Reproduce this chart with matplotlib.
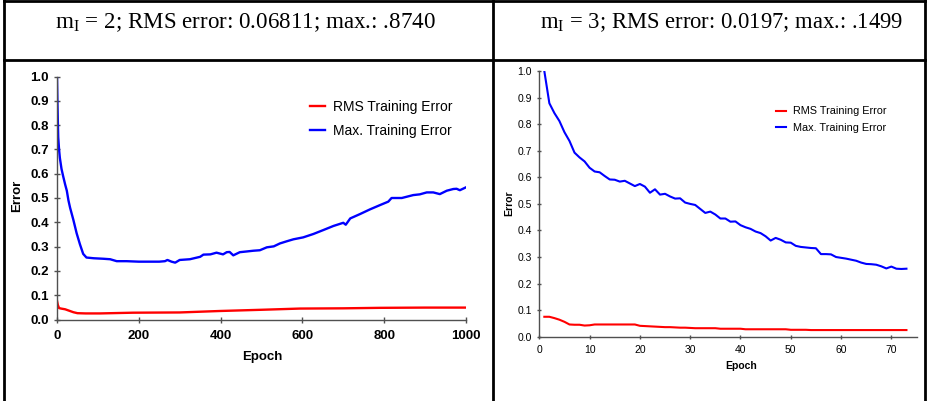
import matplotlib
matplotlib.use("Agg")
import matplotlib.pyplot as plt
from matplotlib.lines import Line2D

plt.rcParams['font.family'] = ['Liberation Sans', 'DejaVu Sans']
plt.rcParams['mathtext.fontset'] = 'custom'
plt.rcParams['mathtext.rm'] = 'Liberation Serif'

# left run: m_I = 2, 1000 epochs
epochs_a = [0, 1, 2, 3, 5, 7, 11, 15, 20, 24, 28, 32, 40, 48, 56, 64, 72, 90,
            113, 130, 146, 170, 200, 227, 250, 264, 270, 280, 289, 300, 325,
            350, 358, 375, 390, 406, 415, 422, 431, 447, 464, 480, 496, 513,
            530, 545, 562, 578, 602, 627, 651, 676, 700, 706, 717, 741, 765,
            790, 810, 818, 843, 871, 887, 904, 920, 936, 953, 969, 977, 985,
            1000]
max_a = [1.00, 0.90, 0.82, 0.75, 0.70, 0.665, 0.62, 0.59, 0.555, 0.53, 0.49,
         0.46, 0.41, 0.355, 0.31, 0.27, 0.255, 0.252, 0.25, 0.248, 0.24, 0.24,
         0.238, 0.238, 0.238, 0.24, 0.245, 0.238, 0.234, 0.245, 0.248, 0.258,
         0.267, 0.268, 0.275, 0.268, 0.277, 0.278, 0.264, 0.277, 0.28, 0.283,
         0.285, 0.297, 0.301, 0.313, 0.322, 0.33, 0.338, 0.352, 0.368, 0.385,
         0.398, 0.39, 0.416, 0.434, 0.453, 0.471, 0.485, 0.50, 0.50, 0.512,
         0.515, 0.523, 0.523, 0.516, 0.53, 0.537, 0.538, 0.532, 0.544]
rms_epochs_a = [0, 2, 5, 10, 20, 30, 40, 50, 70, 105, 186, 300, 398, 500, 594,
                700, 790, 900, 1000]
rms_a = [0.077, 0.06, 0.047, 0.045, 0.042, 0.036, 0.03, 0.026, 0.025, 0.025,
         0.028, 0.029, 0.035, 0.040, 0.045, 0.046, 0.048, 0.049, 0.049]

# right run: m_I = 3, 73 epochs
epochs_b = list(range(1, 74))
max_b = [1.000, 0.879, 0.842, 0.812, 0.770, 0.737, 0.693, 0.675, 0.660, 0.636,
         0.622, 0.619, 0.605, 0.592, 0.591, 0.584, 0.587, 0.577, 0.567, 0.575,
         0.565, 0.542, 0.555, 0.535, 0.538, 0.528, 0.520, 0.521, 0.505, 0.500,
         0.496, 0.481, 0.466, 0.471, 0.460, 0.445, 0.445, 0.433, 0.434, 0.420,
         0.412, 0.406, 0.396, 0.390, 0.378, 0.362, 0.372, 0.365, 0.355, 0.354,
         0.342, 0.338, 0.336, 0.334, 0.333, 0.311, 0.311, 0.310, 0.300, 0.297,
         0.294, 0.290, 0.286, 0.279, 0.274, 0.273, 0.271, 0.265, 0.257, 0.264,
         0.256, 0.255, 0.256]
rms_b = [0.075, 0.075, 0.070, 0.064, 0.056, 0.046, 0.045, 0.045, 0.042, 0.043,
         0.046, 0.046, 0.046, 0.046, 0.046, 0.046, 0.046, 0.046, 0.046, 0.041,
         0.040, 0.039, 0.038, 0.037, 0.036, 0.036, 0.035, 0.034, 0.034, 0.033,
         0.032, 0.032, 0.032, 0.032, 0.032, 0.030, 0.030, 0.030, 0.030, 0.030,
         0.028, 0.028, 0.028, 0.028, 0.028, 0.028, 0.028, 0.028, 0.028, 0.026,
         0.026, 0.026, 0.026, 0.025, 0.025, 0.025, 0.025, 0.025, 0.025, 0.025,
         0.025, 0.025, 0.025, 0.025, 0.025, 0.025, 0.025, 0.025, 0.025, 0.025,
         0.025, 0.025, 0.025]

titles = ["m$_\\mathrm{I}$ = 2; RMS error: 0.06811; max.: .8740",
          "m$_\\mathrm{I}$ = 3; RMS error: 0.0197; max.: .1499"]
labels = ["RMS Training Error", "Max. Training Error"]

W, H = 927, 401
fig = plt.figure(figsize=(W / 100, H / 100), dpi=100)


def fx(x):
    return x / W


def fy(y):
    return 1 - y / H


# table grid
for x0, y0, x1, y1 in [(4, 1, 925, 1), (4, 59.5, 925, 59.5),
                       (4, 0, 4, H), (493, 0, 493, H), (925, 0, 925, H)]:
    fig.add_artist(Line2D([fx(x0), fx(x1)], [fy(y0), fy(y1)], color='black',
                          lw=2, transform=fig.transFigure))

fig.text(fx(55), fy(23), titles[0], family='Liberation Serif', fontsize=16.6,
         ha='left', va='center')
fig.text(fx(540), fy(23), titles[1], family='Liberation Serif', fontsize=16.3,
         ha='left', va='center')


def style(ax, fs, bold, ypad, xpad, tlen):
    for s in ['top', 'right']:
        ax.spines[s].set_visible(False)
    for s in ['left', 'bottom']:
        ax.spines[s].set_color('#505050')
        ax.spines[s].set_linewidth(1.0)
    ax.set_ylim(0, 1.0)
    ax.set_yticks([i / 10 for i in range(11)])
    ax.set_yticklabels(["%.1f" % (i / 10) for i in range(11)])
    ax.tick_params(axis='both', direction='inout', length=tlen, width=1.0,
                   color='#505050', labelsize=fs)
    ax.tick_params(axis='y', pad=ypad)
    ax.tick_params(axis='x', pad=xpad)
    for t in ax.get_xticklabels() + ax.get_yticklabels():
        t.set_fontweight('bold' if bold else 'normal')
    ax.set_facecolor('none')


# left chart
ax1 = fig.add_axes([fx(57), fy(319.5), (466 - 57) / W, 243 / H])
ax1.plot(rms_epochs_a, rms_a, color='red', lw=1.7, label=labels[0])
ax1.plot(epochs_a, max_a, color='blue', lw=1.7, label=labels[1])
ax1.set_xlim(0, 1000)
ax1.set_xticks(range(0, 1001, 200))
style(ax1, 9.5, True, 3.5, 5.5, 4.5)
ax1.legend(frameon=False, loc='upper left',
           bbox_to_anchor=(fx(310), fy(99.5)), bbox_transform=fig.transFigure,
           fontsize=10, borderpad=0, borderaxespad=0, handlelength=1.1,
           handletextpad=0.55, labelspacing=0.72)
fig.text(fx(262), fy(357), "Epoch", fontsize=9.5, fontweight='bold',
         ha='center', va='center')
fig.text(fx(17), fy(196), "Error", fontsize=9.5, fontweight='bold',
         rotation=90, ha='center', va='center')

# right chart
ax2 = fig.add_axes([fx(539.3), fy(336.7), (917 - 539.3) / W, 265.6 / H])
ax2.plot(epochs_b, rms_b, color='red', lw=1.5, label=labels[0])
ax2.plot(epochs_b, max_b, color='blue', lw=1.5, label=labels[1])
ax2.set_xlim(0, 75.1)
ax2.set_xticks(range(0, 71, 10))
style(ax2, 7.5, False, 3.5, 4.5, 3.5)
ax2.legend(frameon=False, loc='upper left',
           bbox_to_anchor=(fx(775.5), fy(106.5)), bbox_transform=fig.transFigure,
           fontsize=7.8, borderpad=0, borderaxespad=0, handlelength=1.0,
           handletextpad=0.58, labelspacing=0.62)
fig.text(fx(741), fy(365.7), "Epoch", fontsize=7.5, fontweight='bold',
         ha='center', va='center')
fig.text(fx(509), fy(203), "Error", fontsize=7.5, fontweight='bold',
         rotation=90, ha='center', va='center')

fig.savefig("out.png", dpi=100)
